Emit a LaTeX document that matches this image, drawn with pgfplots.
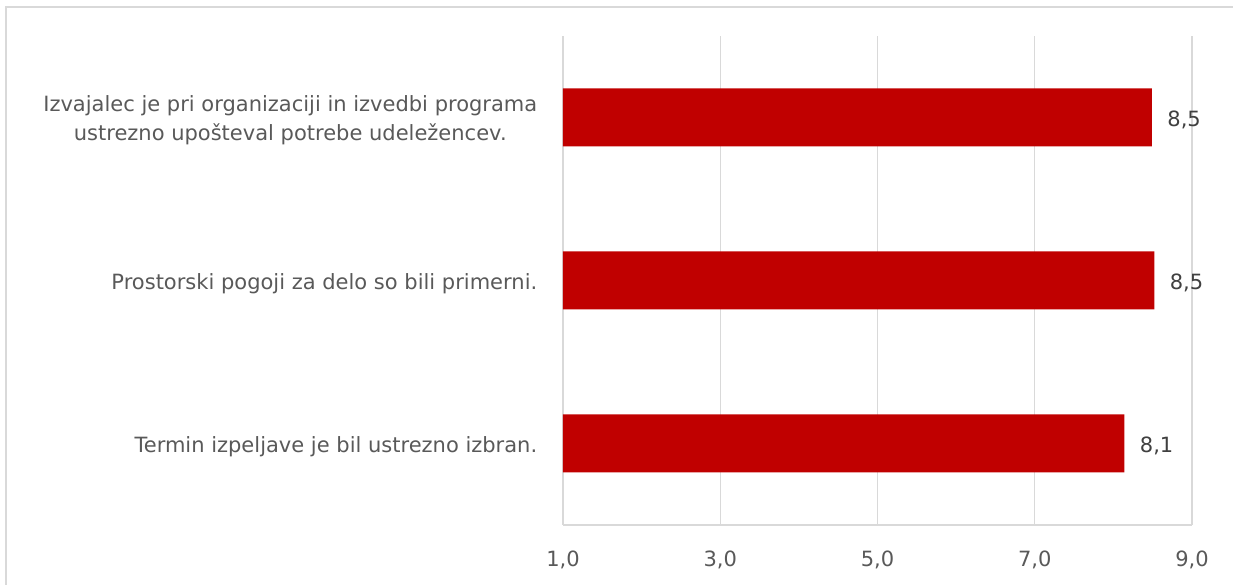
\documentclass[border=0pt]{standalone}
\usepackage{pgfplots}
\pgfplotsset{compat=1.18}
\usepackage{fontspec}
\setmainfont{DejaVu Sans}
\definecolor{barred}{HTML}{C00000}
\definecolor{gridgray}{HTML}{D9D9D9}
\definecolor{txtgray}{HTML}{595959}
\definecolor{lblgray}{HTML}{404040}
\begin{document}
\begin{tikzpicture}
\begin{axis}[
  at={(0pt,0pt)}, anchor=south west,
  scale only axis, width=629pt, height=489pt,
  xbar, bar width=58pt,
  xmin=1, xmax=9, ymin=-0.5, ymax=2.5,
  xtick={1,3,5,7,9},
  /pgf/number format/fixed, /pgf/number format/fixed zerofill,
  /pgf/number format/precision=1, /pgf/number format/use comma,
  /pgf/number format/assume math mode=true,
  ytick={0,1,2},
  yticklabels={Termin izpeljave je bil ustrezno izbran.,
    Prostorski pogoji za delo so bili primerni.,
    {Izvajalec je pri organizaciji in izvedbi programa\\ustrezno upošteval potrebe udeležencev.}},
  yticklabel style={align=center, font=\fontsize{21}{29}\selectfont, text=txtgray, xshift=-18pt, yshift=-3pt},
  xticklabel style={font=\fontsize{21}{24}\selectfont, text=txtgray, yshift=-22pt},
  tick style={draw=none},
  xmajorgrids, grid style={gridgray, line width=1.3pt},
  axis line style={draw=none},
  extra description/.code={\draw[gridgray,line width=1.3pt] (axis cs:1,-0.5) -- (axis cs:9,-0.5);},
  nodes near coords,
  nodes near coords style={font=\fontsize{21}{24}\selectfont, text=lblgray, anchor=west, xshift=12pt, yshift=-2pt},
  point meta=x,
]
\addplot[fill=barred, draw=none] coordinates {(8.14,0) (8.52,1) (8.49,2)};
\end{axis}
\draw[gridgray,line width=2pt] (-556.5pt,-70pt) -- (-556.5pt,518pt) -- (680pt,518pt);
\pgfresetboundingbox
\useasboundingbox (-563pt,-60pt) rectangle (670pt,525pt);
\end{tikzpicture}
\end{document}
